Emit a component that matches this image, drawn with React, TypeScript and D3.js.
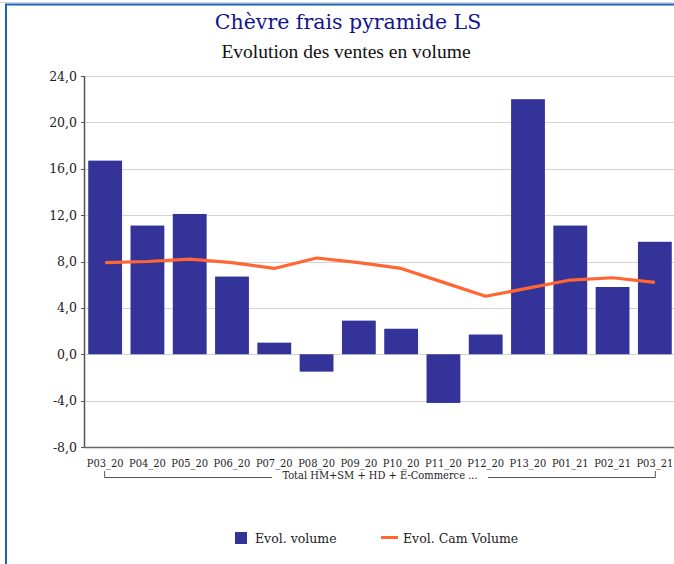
import React from "react";
import * as d3 from "d3";

const categories = ["P03_20","P04_20","P05_20","P06_20","P07_20","P08_20","P09_20","P10_20","P11_20","P12_20","P13_20","P01_21","P02_21","P03_21"];
const evolVolume = [16.7, 11.1, 12.1, 6.7, 1.0, -1.5, 2.9, 2.2, -4.2, 1.7, 22.0, 11.1, 5.8, 9.7];
const evolCamVolume = [7.9, 8.0, 8.2, 7.9, 7.4, 8.3, 7.9, 7.4, 6.2, 5.0, 5.7, 6.4, 6.6, 6.2];
const yTicks = [-8, -4, 0, 4, 8, 12, 16, 20, 24];
const title = "Chèvre frais pyramide LS";
const subtitle = "Evolution des ventes en volume";
const groupLabel = "Total HM+SM + HD + E-Commerce ...";
const seriesNames = ["Evol. volume", "Evol. Cam Volume"];

const W = 674, H = 564;
const left = 84, right = 676, top = 76, bottom = 447;
const BAR = "#333399";
const LINE = "#ff6633";
const SERIF = "'DejaVu Serif', serif";

export default function App() {
  const x = d3.scaleBand<string>().domain(categories).range([left, right]).paddingInner(0.2).paddingOuter(0.1);
  const y = d3.scaleLinear().domain([-8, 24]).range([bottom, top]);
  const fmt = (v: number) => d3.format(".1f")(v).replace(".", ",").replace("−", "-");
  const line = d3.line<number>()
    .x((_, i) => (x(categories[i]) as number) + x.bandwidth() / 2)
    .y((d) => y(d));
  const c0 = (x(categories[0]) as number) + x.bandwidth() / 2;
  const cN = (x(categories[categories.length - 1]) as number) + x.bandwidth() / 2;
  const gx = (c0 + cN) / 2;
  const gapHalf = 108;
  const by = 477.5;

  return (
    <svg width={W} height={H} style={{ position: "absolute", left: 0, top: 0, background: "#fff" }}>
      <line x1={0} x2={W} y1={2.5} y2={2.5} stroke="#cfd6e0" strokeWidth={1} />
      <rect x={6} y={4.5} width={W + 20} height={H + 20} fill="none" stroke="#1a63b8" strokeWidth={2} />
      <text x={348} y={29} textAnchor="middle" fontFamily={SERIF} fontSize={20.5} fill="#14148c">{title}</text>
      <text x={346} y={57.5} textAnchor="middle" fontFamily="'Liberation Serif', serif" fontSize={19.5} fill="#111">{subtitle}</text>

      {yTicks.map((t) => (
        <g key={t}>
          {t !== -8 && <line x1={left} x2={W} y1={Math.round(y(t)) + 0.5} y2={Math.round(y(t)) + 0.5} stroke="#d4d4d4" strokeWidth={1} />}
          <line x1={left - 3} x2={left} y1={Math.round(y(t)) + 0.5} y2={Math.round(y(t)) + 0.5} stroke="#555" />
          <text x={77} y={y(t) + 4.5} textAnchor="end" fontFamily={SERIF} fontSize={12.5} fill="#222">{fmt(t)}</text>
        </g>
      ))}

      {evolVolume.map((v, i) => (
        <rect key={categories[i]} x={x(categories[i])} width={x.bandwidth()}
          y={Math.min(y(v), y(0))} height={Math.abs(y(v) - y(0))} fill={BAR} />
      ))}

      <line x1={left + 0.5} x2={left + 0.5} y1={top} y2={bottom + 1} stroke="#555" strokeWidth={1.5} />
      <line x1={left} x2={W} y1={bottom + 0.5} y2={bottom + 0.5} stroke="#666" strokeWidth={1.5} />

      <path d={line(evolCamVolume) || ""} fill="none" stroke={LINE} strokeWidth={3.2} strokeLinejoin="round" />

      {categories.map((c) => (
        <text key={c} x={(x(c) as number) + x.bandwidth() / 2} y={467} textAnchor="middle"
          fontFamily={SERIF} fontStretch="condensed" fontSize={11} fill="#222">{c}</text>
      ))}

      <path d={`M${c0 - 0.5},${471} V${by} H${gx - gapHalf}`} fill="none" stroke="#555" strokeWidth={1} />
      <path d={`M${cN + 0.5},${471} V${by} H${gx + gapHalf}`} fill="none" stroke="#555" strokeWidth={1} />
      <text x={gx} y={479} textAnchor="middle" fontFamily={SERIF} fontStretch="condensed" fontSize={11} fill="#222">{groupLabel}</text>

      <rect x={235} y={532} width={12} height={12} fill={BAR} />
      <text x={255} y={542.5} fontFamily={SERIF} fontSize={12.5} fill="#222">{seriesNames[0]}</text>
      <line x1={381} x2={398} y1={537.5} y2={537.5} stroke={LINE} strokeWidth={3} />
      <text x={403} y={542.5} fontFamily={SERIF} fontSize={12.5} fill="#222">{seriesNames[1]}</text>
    </svg>
  );
}
